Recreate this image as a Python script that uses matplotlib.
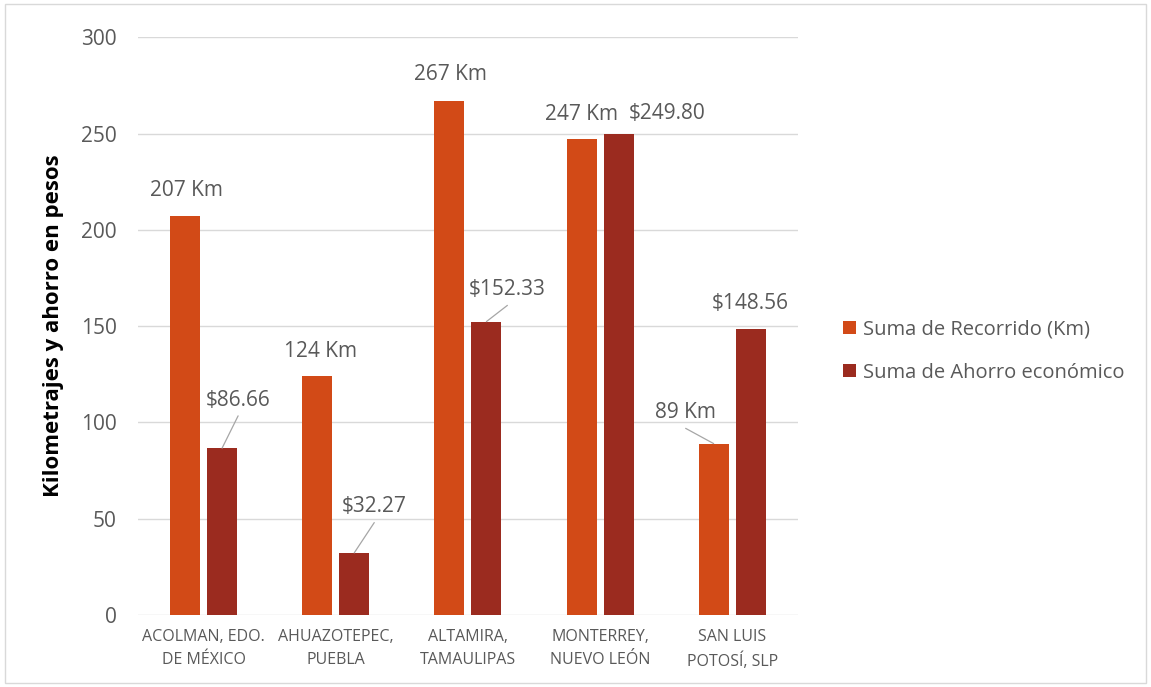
import matplotlib.pyplot as plt
import numpy as np

plt.rcParams["font.family"] = ["Open Sans", "DejaVu Sans"]

ciudades = [
    "ACOLMAN, EDO.\nDE MÉXICO",
    "AHUAZOTEPEC,\nPUEBLA",
    "ALTAMIRA,\nTAMAULIPAS",
    "MONTERREY,\nNUEVO LEÓN",
    "SAN LUIS\nPOTOSÍ, SLP",
]
recorrido_km = [207, 124, 267, 247, 89]
ahorro_pesos = [86.66, 32.27, 152.33, 249.80, 148.56]

# label offsets in pixels (dx, dy) and whether a leader line is drawn
km_offsets = [(1, 26), (3, 25), (1, 26), (0, 25), (-28, 31)]
km_leader = [False, False, False, False, True]
ahorro_offsets = [(16, 48), (20, 46), (21, 32), (49, 20), (0, 25)]
ahorro_leader = [True, True, True, False, False]

c_km = "#D24A17"
c_ahorro = "#9B2B1F"
gris = "#595959"

fig = plt.figure(figsize=(11.51, 6.87), dpi=100)
ax = fig.add_axes([0.1195, 0.1048, 0.574, 0.841])

x = np.arange(len(ciudades))
w = 0.227
off = 0.14
b1 = ax.bar(x - off, recorrido_km, w, color=c_km, label="Suma de Recorrido (Km)", zorder=3)
b2 = ax.bar(x + off, ahorro_pesos, w, color=c_ahorro, label="Suma de Ahorro económico", zorder=3)

ax.set_xlim(-0.5, 4.5)
ax.set_ylim(0, 300)
ax.set_yticks(range(0, 301, 50))
ax.set_xticks(x)
ax.set_xticklabels(ciudades, fontsize=11.5, color=gris, linespacing=1.6)
ax.tick_params(axis="y", labelsize=15, colors=gris, length=0, pad=15)
ax.tick_params(axis="x", length=0, pad=10)
ax.grid(axis="y", color="#D9D9D9", linewidth=1, zorder=0)
for s in ax.spines.values():
    s.set_visible(False)
ax.set_ylabel("Kilometrajes y ahorro en pesos", fontsize=16, fontweight="bold",
              color="black", labelpad=12)


def etiquetar(bars, vals, offsets, leaders, fmt):
    for bar, v, (dx, dy), lead in zip(bars, vals, offsets, leaders):
        xc = bar.get_x() + bar.get_width() / 2
        props = None
        if lead:
            props = dict(arrowstyle="-", color="#A6A6A6", lw=0.9, relpos=(0.5, -0.25),
                         shrinkA=0, shrinkB=0)
        ax.annotate(fmt(v), (xc, v), xytext=(dx * 0.72, dy * 0.72), textcoords="offset points",
                    ha="center", va="center", fontsize=15, color=gris,
                    arrowprops=props, zorder=4)


etiquetar(b1, recorrido_km, km_offsets, km_leader, lambda v: f"{v:.0f} Km")
etiquetar(b2, ahorro_pesos, ahorro_offsets, ahorro_leader, lambda v: f"${v:.2f}")

ax.legend(loc="center left", bbox_to_anchor=(1.04, 0.457), frameon=False, fontsize=14.5,
          labelcolor=gris, handlelength=0.65, handleheight=0.65, handletextpad=0.35,
          labelspacing=1.15)

fig.patches.append(plt.Rectangle((0.004, 0.006), 0.992, 0.988, transform=fig.transFigure,
                                 fill=False, edgecolor="#D9D9D9", linewidth=1))

fig.savefig("out.png", dpi=100)
